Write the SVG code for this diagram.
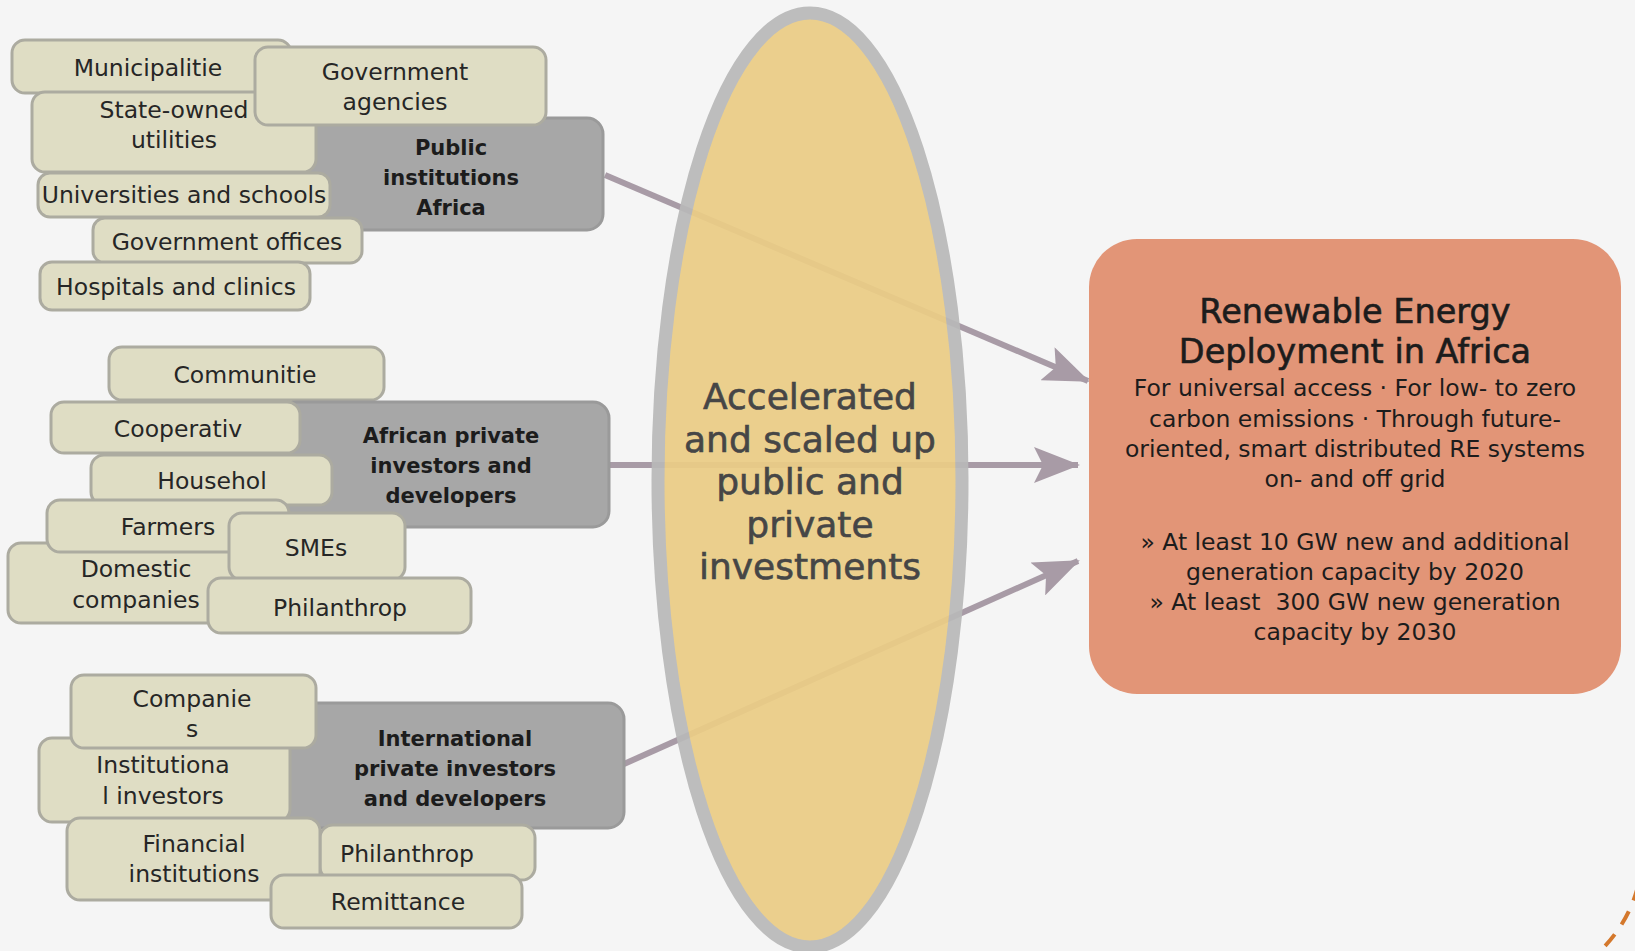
<svg xmlns="http://www.w3.org/2000/svg" width="1635" height="951" viewBox="0 0 1635 951">
<style>
.leaf rect{fill:#dfddc4;stroke:#acaba0;stroke-width:3}
.hub rect{fill:#a7a7a7;stroke:#9a9a9a;stroke-width:3}
.leaf text{font-family:"DejaVu Sans",sans-serif;font-size:23.5px;fill:#262626;text-anchor:middle}
.hub text{font-family:"DejaVu Sans",sans-serif;font-weight:bold;font-size:21px;fill:#1c1c1c;text-anchor:middle}
.conn{stroke:#a89ba6;stroke-width:6;fill:none;marker-end:url(#ah)}
.ell text{font-family:"DejaVu Sans",sans-serif;font-size:36px;fill:#464646;stroke:#464646;stroke-width:0.6;text-anchor:middle}
.goal text{font-family:"DejaVu Sans",sans-serif;fill:#1c1c1c;text-anchor:middle}
.goal .t{font-size:33.5px;stroke:#1c1c1c;stroke-width:0.6}
.goal .b{font-size:23.5px}
</style>
<defs>
<marker id="ah" markerUnits="userSpaceOnUse" viewBox="0 0 46 36" refX="44" refY="18" markerWidth="46" markerHeight="36" orient="auto">
<path d="M0,0 L46,18 L0,36 L9,18 z" fill="#a89ba6"/>
</marker>
</defs>
<rect width="1635" height="951" fill="#f5f5f5"/>

<g id="connectors">
<path class="conn" d="M605,175 L1088,381"/>
<path class="conn" d="M609,465 L1078,465"/>
<path class="conn" d="M624,764 L1078,561"/>
</g>

<g id="hub-investments" class="ell">
<ellipse cx="810" cy="480" rx="152" ry="467" fill="#ebcd86" stroke="#b9b9b9" stroke-width="13" opacity="0.93"/>
<text x="810" y="409">Accelerated</text>
<text x="810" y="452">and scaled up</text>
<text x="810" y="494">public and</text>
<text x="810" y="537">private</text>
<text x="810" y="579">investments</text>
</g>

<g id="goal" class="goal">
<rect x="1089" y="239" width="532" height="455" rx="48" fill="#e29577"/>
<text class="t" x="1355" y="323">Renewable Energy</text>
<text class="t" x="1355" y="363">Deployment in Africa</text>
<text class="b" x="1355" y="396">For universal access · For low- to zero</text>
<text class="b" x="1355" y="427">carbon emissions · Through future-</text>
<text class="b" x="1355" y="457">oriented, smart distributed RE systems</text>
<text class="b" x="1355" y="487">on- and off grid</text>
<text class="b" x="1355" y="550">» At least 10 GW new and additional</text>
<text class="b" x="1355" y="580">generation capacity by 2020</text>
<text class="b" x="1355" y="610">» At least &#160;300 GW new generation</text>
<text class="b" x="1355" y="640">capacity by 2030</text>
</g>

<!-- Group 1 -->
<g id="public-institutions" class="hub"><rect x="300" y="118" width="303" height="112" rx="16"/><text x="451" y="155">Public</text><text x="451" y="185">institutions</text><text x="451" y="215">Africa</text></g>
<g id="municipalities" class="leaf"><rect x="12" y="40" width="279" height="53" rx="13"/><text x="148" y="76">Municipalitie</text></g>
<g id="state-owned" class="leaf"><rect x="32" y="92" width="284" height="80" rx="13"/><text x="174" y="118">State-owned</text><text x="174" y="148">utilities</text></g>
<g id="gov-agencies" class="leaf"><rect x="255" y="47" width="291" height="78" rx="13"/><text x="395" y="80">Government</text><text x="395" y="110">agencies</text></g>
<g id="universities" class="leaf"><rect x="38" y="173" width="292" height="44" rx="12"/><text x="184" y="203">Universities and schools</text></g>
<g id="gov-offices" class="leaf"><rect x="93" y="218" width="269" height="45" rx="12"/><text x="227" y="250">Government offices</text></g>
<g id="hospitals" class="leaf"><rect x="40" y="262" width="270" height="48" rx="12"/><text x="176" y="295">Hospitals and clinics</text></g>

<!-- Group 2 -->
<g id="communities" class="leaf"><rect x="109" y="347" width="275" height="53" rx="13"/><text x="245" y="383">Communitie</text></g>
<g id="african-private" class="hub"><rect x="280" y="402" width="329" height="125" rx="16"/><text x="451" y="443">African private</text><text x="451" y="473">investors and</text><text x="451" y="503">developers</text></g>
<g id="cooperatives" class="leaf"><rect x="51" y="402" width="249" height="51" rx="13"/><text x="178" y="437">Cooperativ</text></g>
<g id="households" class="leaf"><rect x="91" y="455" width="241" height="50" rx="13"/><text x="212" y="489">Househol</text></g>
<g id="domestic" class="leaf"><rect x="8" y="543" width="229" height="80" rx="13"/><text x="136" y="577">Domestic</text><text x="136" y="608">companies</text></g>
<g id="farmers" class="leaf"><rect x="47" y="500" width="242" height="52" rx="13"/><text x="168" y="535">Farmers</text></g>
<g id="smes" class="leaf"><rect x="229" y="513" width="176" height="67" rx="13"/><text x="316" y="556">SMEs</text></g>
<g id="philanthropy-1" class="leaf"><rect x="208" y="578" width="263" height="55" rx="13"/><text x="340" y="616">Philanthrop</text></g>

<!-- Group 3 -->
<g id="international" class="hub"><rect x="285" y="703" width="339" height="125" rx="16"/><text x="455" y="746">International</text><text x="455" y="776">private investors</text><text x="455" y="806">and developers</text></g>
<g id="institutional" class="leaf"><rect x="39" y="738" width="251" height="84" rx="13"/><text x="163" y="773">Institutiona</text><text x="163" y="804">l investors</text></g>
<g id="companies" class="leaf"><rect x="71" y="675" width="245" height="73" rx="13"/><text x="192" y="707">Companie</text><text x="192" y="737">s</text></g>
<g id="philanthropy-2" class="leaf"><rect x="320" y="825" width="215" height="55" rx="13"/><text x="407" y="862">Philanthrop</text></g>
<g id="financial" class="leaf"><rect x="67" y="818" width="253" height="82" rx="13"/><text x="194" y="852">Financial</text><text x="194" y="882">institutions</text></g>
<g id="remittances" class="leaf"><rect x="271" y="875" width="251" height="53" rx="13"/><text x="398" y="910">Remittance</text></g>

<path d="M1638,886 Q1628,925 1597,954" fill="none" stroke="#d4782c" stroke-width="4" stroke-dasharray="15 12"/>
</svg>
